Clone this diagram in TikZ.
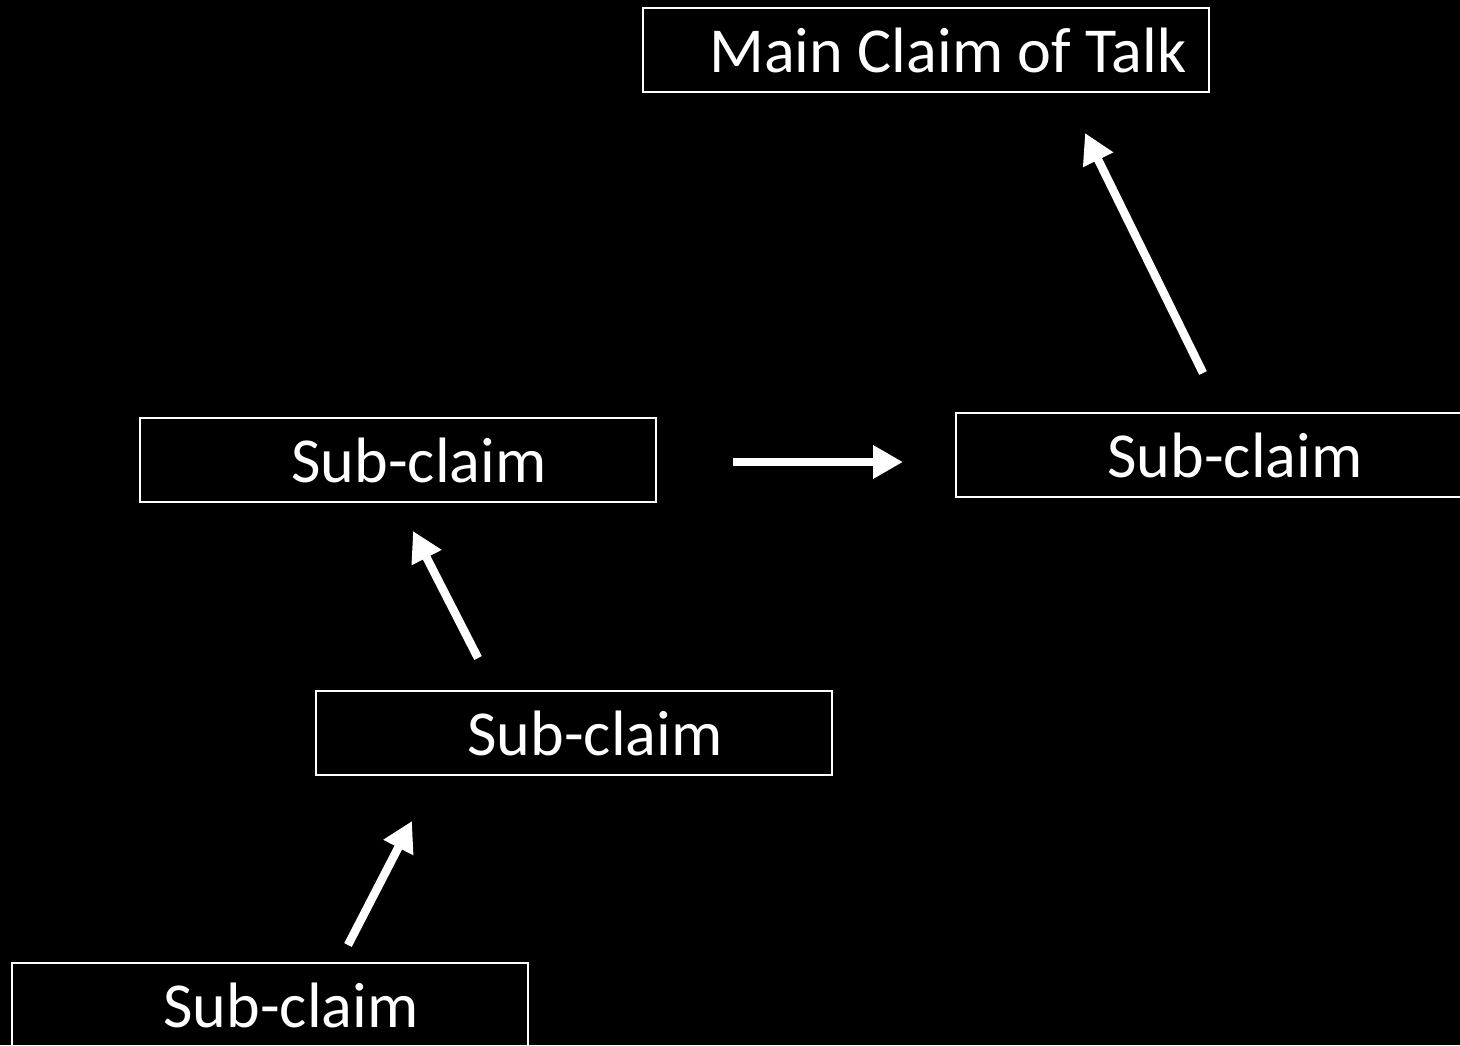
\documentclass[tikz,border=0pt]{standalone}
\usepackage{fontspec}
\setmainfont{Carlito}
\usetikzlibrary{arrows.meta}

\begin{document}
\begin{tikzpicture}[x=0.02cm, y=-0.02cm,
    claimBox/.style={draw=white, line width=1.2pt, text=white, minimum width=10.32cm, minimum height=1.68cm, inner sep=0pt, font=\fontsize{36.5}{44}\selectfont},
    bigArrow/.style={white, line width=4.8pt, -{Triangle[length=17pt, width=18pt]}}]
    \fill[black] (0,0) rectangle (1460,1045);
    \clip (0,0) rectangle (1460,1045);
    % claims
    \node[claimBox, minimum width=11.32cm] (mainClaim) at (926,50) {\hspace*{0.88cm}Main Claim of Talk};
    \node[claimBox] (subRight) at (1214,455) {\hspace*{0.84cm}Sub-claim};
    \node[claimBox] (subLeft) at (398,460) {\hspace*{0.84cm}Sub-claim};
    \node[claimBox] (subMid) at (574,733) {\hspace*{0.84cm}Sub-claim};
    \node[claimBox] (subLow) at (270,1005) {\hspace*{0.84cm}Sub-claim};
    % arrow ends
    \coordinate (lowTail) at (348,945);
    \coordinate (lowTip) at (412,821);
    \coordinate (midTail) at (478,658);
    \coordinate (midTip) at (413,531);
    \coordinate (leftTail) at (733,462);
    \coordinate (leftTip) at (903,462);
    \coordinate (rightTail) at (1203,373);
    \coordinate (rightTip) at (1085,133);
    \draw[bigArrow] (lowTail) -- (lowTip);
    \draw[bigArrow] (midTail) -- (midTip);
    \draw[bigArrow] (leftTail) -- (leftTip);
    \draw[bigArrow] (rightTail) -- (rightTip);
\end{tikzpicture}
\end{document}
